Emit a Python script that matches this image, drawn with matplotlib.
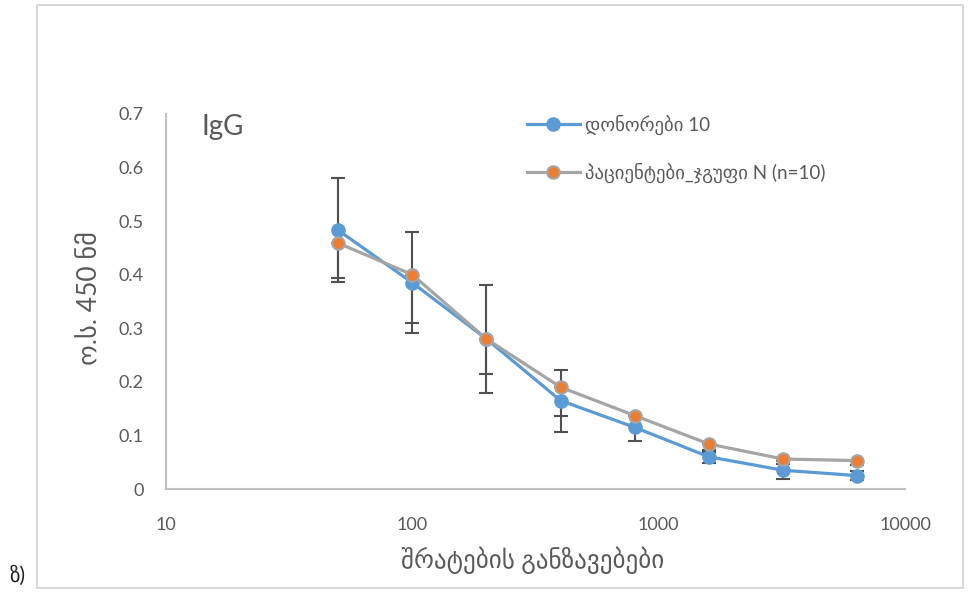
import matplotlib
matplotlib.use("Agg")
import matplotlib.pyplot as plt
from matplotlib.patches import Rectangle

plt.rcParams['font.family'] = ['Lato', 'DejaVu Sans']

# data
dilutions = [50, 100, 200, 400, 800, 1600, 3200, 6400]
donors = [0.483, 0.385, 0.280, 0.165, 0.115, 0.060, 0.035, 0.025]
donors_err = [0.097, 0.094, 0.100, 0.058, 0.025, 0.012, 0.017, 0.008]
patients = [0.459, 0.400, 0.280, 0.190, 0.137, 0.084, 0.056, 0.053]
patients_err_minus = [0.065, 0.091, 0.066, 0.053, 0.020, 0.015, 0.010, 0.008]

label_donors = "დონორები 10"
label_patients = "პაციენტები_ჯგუფი N (n=10)"
ylabel = "ო.ს. 450 ნმ"
xlabel = "შრატების განზავებები"
yticks = [0, 0.1, 0.2, 0.3, 0.4, 0.5, 0.6, 0.7]
xticks = [10, 100, 1000, 10000]

blue = "#5B9BD5"
orange = "#ED7D31"
gray = "#A5A5A5"
txt = "#595959"
errc = "#505050"

W, H = 974, 594
fig = plt.figure(figsize=(W / 100, H / 100), dpi=100)
# chart area border
fig.patches.append(Rectangle((37 / W, 1 - 588 / H), 926 / W, 583 / H,
                             transform=fig.transFigure, fill=False,
                             edgecolor="#D0D0D0", linewidth=1.2))
ax = fig.add_axes([166 / W, 1 - 489 / H, 739 / W, 375 / H])

ax.errorbar(dilutions, donors, yerr=donors_err, fmt="none", ecolor=errc,
            elinewidth=1.5, capsize=5, capthick=1.5, zorder=2)
ax.errorbar(dilutions, patients, yerr=[patients_err_minus, [0] * len(patients)],
            fmt="none", ecolor=errc, elinewidth=1.5, capsize=5, capthick=1.5, zorder=2)

ax.plot(dilutions, donors, color=blue, linewidth=2.3, marker="o", markersize=9.5,
        markerfacecolor=blue, markeredgecolor=blue, label=label_donors, zorder=3)
ax.plot(dilutions, patients, color=gray, linewidth=2.3, marker="o", markersize=9,
        markerfacecolor=orange, markeredgecolor=gray, markeredgewidth=1.5,
        label=label_patients, zorder=4)

ax.set_xscale("log")
ax.set_xlim(10, 10000)
ax.set_ylim(0, 0.7)
ax.set_xticks(xticks)
ax.set_xticklabels([str(v) for v in xticks])
ax.minorticks_off()
ax.set_yticks(yticks)
ax.set_yticklabels(["0" if v == 0 else "%.1f" % v for v in yticks])
ax.tick_params(axis="both", length=0, colors=txt, labelsize=13)
ax.tick_params(axis="x", pad=20)
ax.tick_params(axis="y", pad=16)

for s in ["top", "right"]:
    ax.spines[s].set_visible(False)
for s in ["left", "bottom"]:
    ax.spines[s].set_color("#BFBFBF")
    ax.spines[s].set_linewidth(1.5)

fig.text(90 / W, 1 - 298 / H, ylabel, rotation=90, color=txt, fontsize=19,
         ha="center", va="center")
fig.text(533 / W, 1 - 560 / H, xlabel, color=txt, fontsize=18,
         ha="center", va="center")

fig.text(202 / W, 1 - 127 / H, "IgG", fontsize=20, color=txt,
         va="center", ha="left")

leg = ax.legend(loc="upper left", bbox_to_anchor=(527 / W, 1 - 115 / H),
                bbox_transform=fig.transFigure, frameon=False,
                fontsize=13.5, handlelength=2.8, labelspacing=1.47,
                handletextpad=0.3, borderpad=0, borderaxespad=0)
for t in leg.get_texts():
    t.set_color(txt)

fig.text(10 / W, 1 - 576 / H, "ზ)", fontsize=15, color="#222222",
         va="center", ha="left")

fig.savefig("out.png", dpi=100)
